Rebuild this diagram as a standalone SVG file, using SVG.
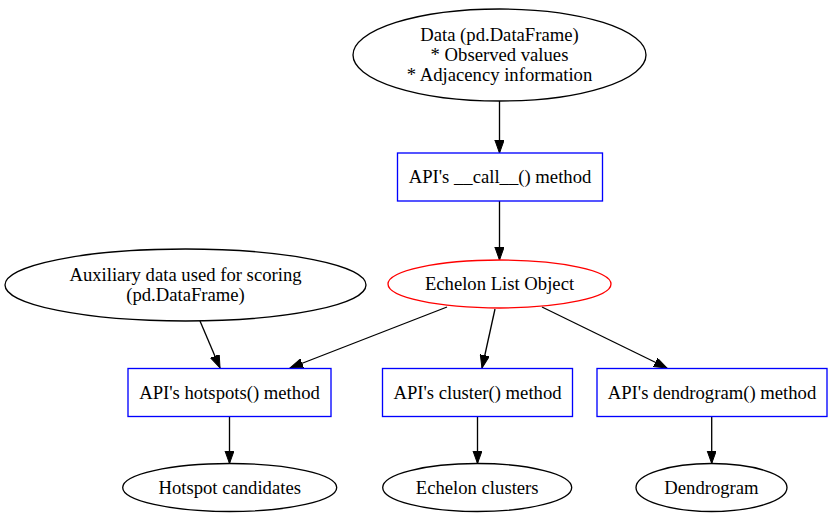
<svg xmlns="http://www.w3.org/2000/svg" width="833" height="518" viewBox="0 0 833 518">
<style>
  .n{fill:none;stroke:#000;stroke-width:1.33}
  .b{fill:none;stroke:#0000ff;stroke-width:1.33}
  .r{fill:none;stroke:#ff0000;stroke-width:1.33}
  text{font-family:"Liberation Serif","Times New Roman",serif;font-size:18.67px;fill:#000;text-anchor:middle}
  .e{fill:none;stroke:#000;stroke-width:1.33}
</style>
<defs>
  <marker id="ah" markerUnits="userSpaceOnUse" markerWidth="14" markerHeight="10" refX="13" refY="4.67" orient="auto">
    <path d="M0,0 L13,4.67 L0,9.33 Z" fill="#000" stroke="#000" stroke-width="1"/>
  </marker>
</defs>
<rect width="833" height="518" fill="#fff"/>
<g id="edges">
  <line class="e" x1="499.5" y1="101" x2="499.5" y2="153" marker-end="url(#ah)"/>
  <line class="e" x1="499.5" y1="201" x2="499.5" y2="260" marker-end="url(#ah)"/>
  <line class="e" x1="200" y1="321" x2="220" y2="368" marker-end="url(#ah)"/>
  <line class="e" x1="447" y1="307" x2="290" y2="368" marker-end="url(#ah)"/>
  <line class="e" x1="495" y1="309" x2="482" y2="368" marker-end="url(#ah)"/>
  <line class="e" x1="542" y1="307" x2="667" y2="368" marker-end="url(#ah)"/>
  <line class="e" x1="229.5" y1="417" x2="229.5" y2="463.5" marker-end="url(#ah)"/>
  <line class="e" x1="477.5" y1="417" x2="477.5" y2="463.5" marker-end="url(#ah)"/>
  <line class="e" x1="711.7" y1="417" x2="711.7" y2="463.5" marker-end="url(#ah)"/>
</g>
<g id="data">
  <ellipse class="n" cx="499.5" cy="55" rx="146.5" ry="46"/>
  <text x="499.5" y="41">Data (pd.DataFrame)</text>
  <text x="499.5" y="61">* Observed values</text>
  <text x="499.5" y="81">* Adjacency information</text>
</g>
<g id="call">
  <rect class="b" x="397.5" y="153" width="205" height="48"/>
  <text x="500" y="183">API's __call__() method</text>
</g>
<g id="echelon">
  <ellipse class="r" cx="499.5" cy="284" rx="111.5" ry="24"/>
  <text x="499.5" y="290">Echelon List Object</text>
</g>
<g id="aux">
  <ellipse class="n" cx="185.5" cy="285" rx="180.5" ry="36"/>
  <text x="185.5" y="281">Auxiliary data used for scoring</text>
  <text x="185.5" y="301">(pd.DataFrame)</text>
</g>
<g id="hotspots">
  <rect class="b" x="128" y="368.5" width="203" height="48"/>
  <text x="229.5" y="398.5">API's hotspots() method</text>
</g>
<g id="cluster">
  <rect class="b" x="382.5" y="368.5" width="190" height="48"/>
  <text x="477.5" y="398.5">API's cluster() method</text>
</g>
<g id="dendro">
  <rect class="b" x="597" y="368.5" width="230" height="48"/>
  <text x="712" y="398.5">API's dendrogram() method</text>
</g>
<g id="hotcand">
  <ellipse class="n" cx="229.7" cy="487.5" rx="107" ry="24"/>
  <text x="229.7" y="493.5">Hotspot candidates</text>
</g>
<g id="clusters">
  <ellipse class="n" cx="477.2" cy="487.5" rx="94.5" ry="24"/>
  <text x="477.2" y="493.5">Echelon clusters</text>
</g>
<g id="dendrogram">
  <ellipse class="n" cx="711.5" cy="487.5" rx="75.5" ry="24"/>
  <text x="711.5" y="493.5">Dendrogram</text>
</g>
</svg>
